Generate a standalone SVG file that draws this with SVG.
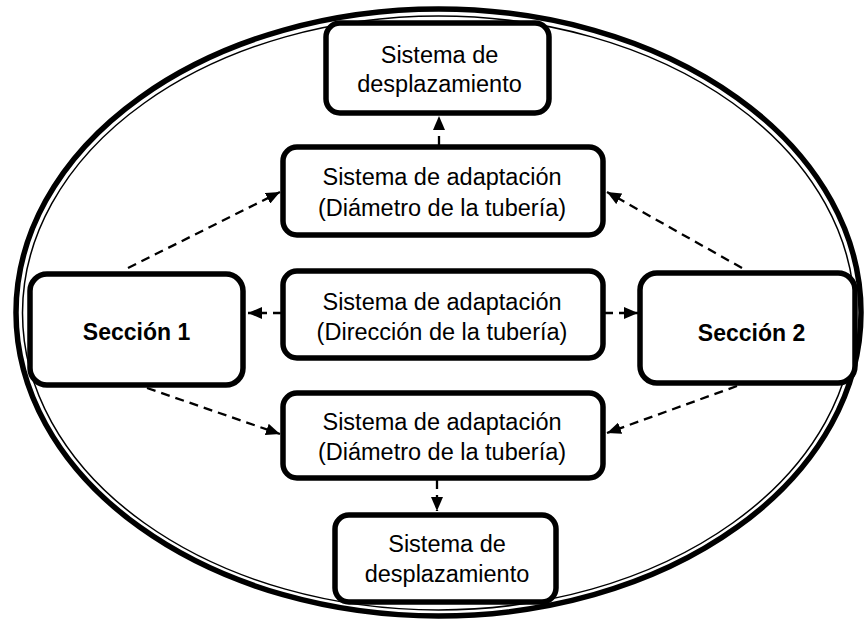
<svg xmlns="http://www.w3.org/2000/svg" width="865" height="621" viewBox="0 0 865 621">
<style>
.box{fill:#fff;stroke:#000;stroke-width:5.5}
.t{font-family:"Liberation Sans",Arial,sans-serif;font-size:23.5px;fill:#000;text-anchor:middle}
.b{font-family:"Liberation Sans",Arial,sans-serif;font-size:23px;font-weight:bold;fill:#000;text-anchor:middle}
.c{stroke:#000;stroke-width:2.3;fill:none;stroke-dasharray:9,6}
</style>
<defs>
<marker id="ah" viewBox="0 0 14 12" refX="14" refY="6" markerWidth="14" markerHeight="12" markerUnits="userSpaceOnUse" orient="auto">
<path d="M0,0 L14,6 L0,12 Z" fill="#000"/>
</marker>
</defs>
<rect width="865" height="621" fill="#fff"/>
<g id="boundary">
<ellipse cx="438.5" cy="312.5" rx="422.5" ry="303.5" fill="none" stroke="#000" stroke-width="5.5"/>
<ellipse cx="438.5" cy="313" rx="416" ry="297" fill="none" stroke="#000" stroke-width="1.5"/>
</g>
<g id="connectors">
<path class="c" d="M128,268 L280,192" marker-end="url(#ah)"/>
<path class="c" d="M147,388 L280,434" marker-end="url(#ah)"/>
<path class="c" d="M282,313 L248,313" marker-end="url(#ah)"/>
<path class="c" d="M604,313 L638,313" marker-end="url(#ah)"/>
<path class="c" d="M742,268 L607,192" marker-end="url(#ah)"/>
<path class="c" d="M737,386 L607,433" marker-end="url(#ah)"/>
<path class="c" d="M439,145 L439,116" marker-end="url(#ah)" stroke-dasharray="14,4"/>
<path class="c" d="M437,480 L437,511" marker-end="url(#ah)" stroke-dasharray="12,4"/>
</g>
<g id="top-desplazamiento">
<rect class="box" x="326" y="23" width="223" height="90" rx="14"/>
<text class="t" x="439.5" y="63">Sistema de</text>
<text class="t" x="439.5" y="92">desplazamiento</text>
</g>
<g id="adaptacion-diametro-1">
<rect class="box" x="283" y="147" width="320" height="88" rx="14"/>
<text class="t" x="442" y="185">Sistema de adaptación</text>
<text class="t" x="442" y="216">(Diámetro de la tubería)</text>
</g>
<g id="adaptacion-direccion">
<rect class="box" x="283" y="271" width="320" height="87" rx="14"/>
<text class="t" x="442" y="310">Sistema de adaptación</text>
<text class="t" x="442" y="340">(Dirección de la tubería)</text>
</g>
<g id="adaptacion-diametro-2">
<rect class="box" x="283" y="393" width="320" height="85" rx="14"/>
<text class="t" x="442" y="430">Sistema de adaptación</text>
<text class="t" x="442" y="460">(Diámetro de la tubería)</text>
</g>
<g id="bottom-desplazamiento">
<rect class="box" x="335" y="515" width="221" height="87" rx="14"/>
<text class="t" x="447" y="552">Sistema de</text>
<text class="t" x="447" y="582">desplazamiento</text>
</g>
<g id="seccion-1">
<rect class="box" x="30" y="274" width="213" height="111" rx="17"/>
<text class="b" x="136.5" y="340">Sección 1</text>
</g>
<g id="seccion-2">
<rect class="box" x="640" y="273" width="215" height="110" rx="17"/>
<text class="b" x="751.5" y="341">Sección 2</text>
</g>
</svg>
